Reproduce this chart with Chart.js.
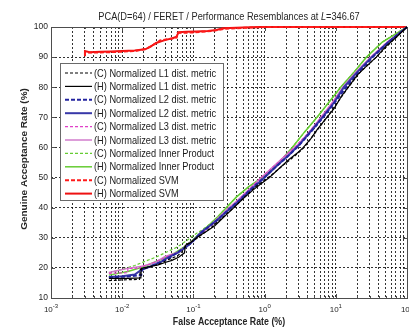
<!DOCTYPE html>
<html>
<head>
<meta charset="utf-8">
<script src="https://cdn.jsdelivr.net/npm/chart.js@4.4.0/dist/chart.umd.min.js"></script>
<style>
  html, body { margin: 0; padding: 0; background: #fff; }
  #wrap { width: 409px; height: 332px; }
</style>
</head>
<body>
<div id="wrap"><canvas id="roc" width="409" height="332"></canvas></div>
<script>
// ROC curves: false acceptance rate (log axis) vs genuine acceptance rate

const xDecades = [-3, -2, -1, 0, 1, 2];
const yTicks = [10, 20, 30, 40, 50, 60, 70, 80, 90, 100];

const seriesLabels = [
    '(C) Normalized L1 dist. metric',
    '(H) Normalized L1 dist. metric',
    '(C) Normalized L2 dist. metric',
    '(H) Normalized L2 dist. metric',
    '(C) Normalized L3 dist. metric',
    '(H) Normalized L3 dist. metric',
    '(C) Normalized Inner Product',
    '(H) Normalized Inner Product',
    '(C) Normalized SVM',
    '(H) Normalized SVM'
];

// L1
const farL1C = [0.0065, 0.01, 0.0175, 0.018, 0.025, 0.035, 0.045, 0.06, 0.07, 0.08, 0.1, 0.13, 0.18, 0.25, 0.37, 0.55, 0.8, 1.2, 1.8, 2.6, 3.6, 5, 7.5, 11, 15, 22, 37, 60, 100];
const garL1C = [15.8, 16, 16.2, 19.5, 20.3, 21.5, 22.8, 24, 25.5, 27.8, 29, 31, 33.5, 36.5, 40, 44, 47.5, 50.5, 54, 57, 60, 64.5, 70, 75.5, 80, 85, 90, 95, 100];
const farL1H = [0.0065, 0.012, 0.0183, 0.0185, 0.025, 0.032, 0.04, 0.05, 0.062, 0.075, 0.077, 0.09, 0.11, 0.15, 0.2, 0.27, 0.37, 0.5, 0.7, 0.9, 1.17, 1.6, 2.2, 3.0, 3.5, 4.5, 5.5, 7.5, 9.5, 12, 15, 20, 27, 37, 50, 70, 100];
const garL1H = [16.5, 16.5, 16.7, 19.8, 20.5, 21, 21.8, 22.5, 23.5, 25, 27.5, 28.3, 30, 32, 34, 37, 40, 43, 46, 48, 50, 53, 56, 58.5, 60, 63, 66, 70, 73, 77, 80, 84, 87, 90, 93.5, 96.5, 100];

// L2
const farL2C = [0.0065, 0.012, 0.0185, 0.019, 0.03, 0.045, 0.065, 0.09, 0.12, 0.16, 0.22, 0.3, 0.42, 0.6, 0.9, 1.4, 2.1, 3.0, 4.4, 6.4, 9, 13.5, 20, 33, 55, 100];
const garL2C = [16.9, 17.1, 17.6, 19.4, 21.3, 23.2, 25.7, 28, 31, 33.5, 36, 39, 42, 45.5, 49.2, 53.3, 57, 60.5, 65, 69.5, 74, 79.5, 84.5, 90, 95, 100];
const farL2H = [0.0065, 0.01, 0.015, 0.0185, 0.025, 0.035, 0.045, 0.06, 0.08, 0.1, 0.13, 0.17, 0.23, 0.32, 0.45, 0.65, 1.0, 1.5, 2.2, 3.1, 4.5, 6.5, 9.5, 13, 20, 32, 55, 100];
const garL2H = [17, 17.2, 17.8, 19.3, 20.5, 22, 23.6, 25, 27, 29, 32, 34, 36.5, 39.5, 42.5, 46, 50, 54, 57.5, 61, 65.5, 70, 75, 80, 85, 90, 95, 100];

// L3
const farL3C = [0.0065, 0.012, 0.012, 0.018, 0.018, 0.025, 0.035, 0.045, 0.06, 0.08, 0.1, 0.14, 0.2, 0.28, 0.4, 0.58, 0.85, 1.25, 1.9, 2.7, 4, 6, 8.8, 12.5, 19, 31, 53, 100];
const garL3C = [18.2, 18.4, 19.8, 19.8, 20.4, 21.3, 22.8, 24, 25.2, 27.3, 29, 32, 35, 38.5, 41.8, 45.5, 49.5, 53, 57, 60.3, 64.5, 69.5, 74.5, 79.5, 84.5, 90, 95, 100];
const farL3H = [0.0065, 0.009, 0.013, 0.02, 0.03, 0.04, 0.05, 0.065, 0.08, 0.1, 0.12, 0.16, 0.22, 0.3, 0.42, 0.6, 0.9, 1.3, 2.0, 2.8, 4.2, 6.2, 9, 12.5, 19, 31, 53, 100];
const garL3H = [18.5, 19.2, 20, 20.6, 22, 23.8, 24.5, 25.5, 27.5, 29.2, 31, 33.5, 36.5, 39.5, 42.5, 46, 50, 53.5, 57.5, 60.5, 65, 70, 75, 80, 85, 90, 95, 100];

// inner product
const farIPC = [0.0065, 0.01, 0.015, 0.02, 0.03, 0.04, 0.06, 0.08, 0.1, 0.13, 0.17, 0.22, 0.29, 0.4, 0.6, 0.93, 1.4, 2.45, 3.6, 5.45, 8, 11.7, 18, 27, 45, 100];
const garIPC = [18.3, 19.5, 20.8, 22, 23.6, 25, 27, 29, 30.8, 32.5, 34.5, 37, 40, 43.5, 47, 50, 53.5, 60, 65, 70, 75, 80, 85, 90, 95, 100];
const farIPH = [0.0065, 0.012, 0.02, 0.035, 0.055, 0.08, 0.1, 0.13, 0.17, 0.22, 0.29, 0.4, 0.6, 0.93, 1.4, 2.45, 3.6, 5.45, 8, 11.7, 18, 27, 45, 100];
const garIPH = [17.6, 18.8, 20.4, 22.8, 25, 27.5, 29.5, 32, 34.5, 37, 40, 43.5, 47, 50, 53.5, 60, 65, 70, 75, 80, 85, 90, 95, 100];

// SVM
const farSVMC = [0.003, 0.003, 0.006, 0.01, 0.016, 0.022, 0.028, 0.034, 0.045, 0.058, 0.06, 0.1, 0.2, 0.27, 0.6, 1.0, 100];
const garSVMC = [90.5, 91.5, 91.6, 91.8, 92.1, 92.8, 94.2, 95.5, 96, 96.5, 98, 98.2, 98.8, 99.4, 99.8, 100, 100];
const farSVMH = [0.003, 0.003, 0.0035, 0.005, 0.007, 0.01, 0.015, 0.021, 0.025, 0.03, 0.036, 0.042, 0.05, 0.058, 0.062, 0.08, 0.11, 0.16, 0.21, 0.26, 0.32, 0.5, 0.85, 100];
const garSVMH = [90.3, 92, 91.6, 91.8, 91.9, 92, 92.2, 92.6, 93.5, 94.7, 95.3, 95.8, 96.2, 96.8, 98.3, 98.4, 98.5, 98.7, 99, 99.6, 99.7, 99.8, 100, 100];

const SERIES = [
    { far: farL1C, gar: garL1C, color: '#000000', width: 1.2, dash: [3, 2] },
    { far: farL1H, gar: garL1H, color: '#000000', width: 1.2, dash: [] },
    { far: farL2C, gar: garL2C, color: '#2424a0', width: 2, dash: [4, 2] },
    { far: farL2H, gar: garL2H, color: '#3838a8', width: 2, dash: [] },
    { far: farL3C, gar: garL3C, color: '#e040c8', width: 1.2, dash: [3, 2] },
    { far: farL3H, gar: garL3H, color: '#d27ccc', width: 1.5, dash: [] },
    { far: farIPC, gar: garIPC, color: '#66cc33', width: 1.2, dash: [3, 2] },
    { far: farIPH, gar: garIPH, color: '#66cc33', width: 1.5, dash: [] },
    { far: farSVMC, gar: garSVMC, color: '#ff1a1a', width: 2, dash: [4, 2] },
    { far: farSVMH, gar: garSVMH, color: '#ee1111', width: 2, dash: [] }
];

// all the 1..9 x 10^k grid values for the log axis
const xGridValues = [];
for (let e = xDecades[0]; e < xDecades[xDecades.length - 1]; e++) {
    for (let m = 1; m <= 9; m++) xGridValues.push(m * Math.pow(10, e));
}
xGridValues.push(Math.pow(10, xDecades[xDecades.length - 1]));

const FONT = '"Liberation Sans", Arial, sans-serif';
const SQUEEZE = 0.84;
const AXIS_COLOR = '#4d4d4d';

function drawSqueezed(ctx, text, x, y, sx) {
    ctx.save();
    ctx.translate(x, y);
    ctx.scale(sx, 1);
    ctx.fillText(text, 0, 0);
    ctx.restore();
}

// axes box + inward tick marks, under the curves
const axesBox = {
    id: 'axesBox',
    beforeDatasetsDraw(chart) {
        const { ctx, chartArea: a, scales } = chart;
        ctx.save();
        ctx.strokeStyle = AXIS_COLOR;
        ctx.lineWidth = 1;
        ctx.beginPath();
        yTicks.forEach(v => {
            const y = Math.round(scales.y.getPixelForValue(v)) + 0.5;
            ctx.moveTo(a.left, y); ctx.lineTo(a.left + 4, y);
            ctx.moveTo(a.right, y); ctx.lineTo(a.right - 4, y);
        });
        xGridValues.forEach(v => {
            const x = Math.round(scales.x.getPixelForValue(v)) + 0.5;
            const major = Math.abs(Math.log10(v) - Math.round(Math.log10(v))) < 1e-9;
            const len = major ? 4 : 2;
            ctx.moveTo(x, a.bottom); ctx.lineTo(x, a.bottom - len);
            ctx.moveTo(x, a.top); ctx.lineTo(x, a.top + len);
        });
        ctx.stroke();
        ctx.strokeRect(Math.round(a.left) + 0.5, Math.round(a.top) + 0.5,
            Math.round(a.right - a.left), Math.round(a.bottom - a.top));
        ctx.restore();
    }
};

// tick labels, titles and the legend
const annotations = {
    id: 'annotations',
    afterDraw(chart) {
        const { ctx, chartArea: a, scales } = chart;
        ctx.save();
        ctx.fillStyle = '#262626';

        // y tick labels
        ctx.font = '8.5px ' + FONT;
        ctx.textAlign = 'right';
        ctx.textBaseline = 'middle';
        yTicks.forEach(v => {
            ctx.fillText(String(v), a.left - 3, scales.y.getPixelForValue(v));
        });

        // x tick labels as 10 with a superscript exponent
        ctx.textBaseline = 'alphabetic';
        ctx.textAlign = 'left';
        xDecades.forEach(e => {
            const x = scales.x.getPixelForValue(Math.pow(10, e));
            ctx.font = '8px ' + FONT;
            const wBase = ctx.measureText('10').width;
            ctx.font = '6px ' + FONT;
            const wExp = ctx.measureText(String(e)).width;
            const x0 = x - (wBase + wExp) / 2;
            ctx.font = '8px ' + FONT;
            ctx.fillText('10', x0, a.bottom + 14);
            ctx.font = '6px ' + FONT;
            ctx.fillText(String(e), x0 + wBase, a.bottom + 9.5);
        });

        // title, with an italic L
        const parts = [
            ['PCA(D=64) / FERET / Performance Resemblances at ', ''],
            ['L', 'italic '],
            ['=346.67', '']
        ];
        let total = 0;
        parts.forEach(p => { ctx.font = p[1] + '11px ' + FONT; total += ctx.measureText(p[0]).width; });
        let tx = (a.left + a.right) / 2 - total * SQUEEZE / 2;
        parts.forEach(p => {
            ctx.font = p[1] + '11px ' + FONT;
            drawSqueezed(ctx, p[0], tx, 20, SQUEEZE);
            tx += ctx.measureText(p[0]).width * SQUEEZE;
        });

        // axis titles
        ctx.font = 'bold 10.5px ' + FONT;
        ctx.textAlign = 'center';
        ctx.textBaseline = 'middle';
        drawSqueezed(ctx, 'False Acceptance Rate (%)', (a.left + a.right) / 2, 322, SQUEEZE);

        ctx.save();
        ctx.translate(25, 159);
        ctx.scale(SQUEEZE, 1);
        ctx.rotate(-Math.PI / 2);
        ctx.font = 'bold 10px ' + FONT;
        ctx.fillText('Genuine Acceptance Rate (%)', 0, 0);
        ctx.restore();

        // legend box
        const lx = 60, ly = 63, lw = 163, lh = 137;
        ctx.fillStyle = '#ffffff';
        ctx.fillRect(lx, ly, lw, lh);
        ctx.strokeStyle = '#6a6a6a';
        ctx.lineWidth = 1;
        ctx.strokeRect(lx + 0.5, ly + 0.5, lw, lh);

        ctx.font = '11px ' + FONT;
        ctx.textAlign = 'left';
        ctx.textBaseline = 'middle';
        chart.data.datasets.forEach((ds, i) => {
            const y = ly + 10 + i * 13.4;
            ctx.save();
            ctx.strokeStyle = ds.borderColor;
            ctx.lineWidth = ds.borderWidth;
            ctx.setLineDash(ds.borderDash);
            ctx.beginPath();
            ctx.moveTo(lx + 5, y);
            ctx.lineTo(lx + 32, y);
            ctx.stroke();
            ctx.restore();
            ctx.fillStyle = '#1a1a1a';
            drawSqueezed(ctx, ds.label, lx + 34, y + 0.5, SQUEEZE);
        });
        ctx.restore();
    }
};

new Chart(document.getElementById('roc'), {
    type: 'line',
    data: {
        datasets: SERIES.map((s, i) => ({
            label: seriesLabels[i],
            data: s.far.map((f, j) => ({ x: f, y: s.gar[j] })),
            borderColor: s.color,
            borderWidth: s.width,
            borderDash: s.dash,
            pointRadius: 0,
            tension: 0,
            fill: false,
            clip: 3
        }))
    },
    options: {
        responsive: false,
        animation: false,
        devicePixelRatio: 1,
        layout: { padding: { left: 51, right: 2, top: 27, bottom: 34 } },
        plugins: {
            legend: { display: false },
            title: { display: false },
            tooltip: { enabled: false }
        },
        scales: {
            x: {
                type: 'logarithmic',
                min: 1e-3,
                max: 1e2,
                afterBuildTicks: (scale) => {
                    scale.ticks = xGridValues.map(v => ({ value: v }));
                },
                ticks: { display: false },
                grid: { color: 'rgba(0,0,0,0.8)', lineWidth: 1, drawTicks: false },
                border: { display: false, dash: [2, 2] }
            },
            y: {
                min: 10,
                max: 100,
                ticks: { display: false, stepSize: 10 },
                grid: { color: 'rgba(0,0,0,0.8)', lineWidth: 1, drawTicks: false },
                border: { display: false, dash: [2, 2] }
            }
        }
    },
    plugins: [axesBox, annotations]
});
</script>
</body>
</html>
